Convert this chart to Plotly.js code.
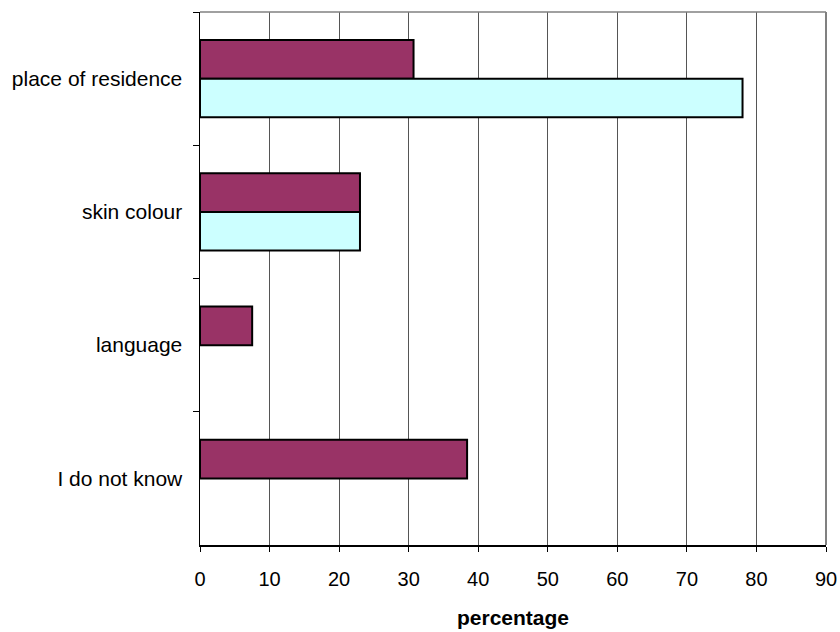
<!DOCTYPE html>
<html>
<head>
<meta charset="utf-8">
<script src="https://cdn.plot.ly/plotly-3.0.1.min.js"></script>
<style>html,body{margin:0;padding:0;background:#fff;}#chart{width:840px;height:632px;}</style>
</head>
<body>
<div id="chart"></div>
<script>
const categories = ["place of residence", "skin colour", "language", "I do not know"];
const seriesA = [30.7, 23.0, 7.5, 38.4];
const seriesB = [78.0, 23.0, null, null];
const xTicks = [0, 10, 20, 30, 40, 50, 60, 70, 80, 90];

const traces = [
  {type: "bar", orientation: "h", y: categories, x: seriesA, name: "A",
   marker: {color: "#993366", line: {color: "#000000", width: 2}}},
  {type: "bar", orientation: "h", y: categories, x: seriesB, name: "B",
   marker: {color: "#CCFFFF", line: {color: "#000000", width: 2}}}
];

const layout = {
  width: 840, height: 632,
  margin: {l: 200, r: 14, t: 12, b: 87},
  paper_bgcolor: "#ffffff", plot_bgcolor: "#ffffff",
  font: {family: "Liberation Sans, Arial, sans-serif", size: 20, color: "#000"},
  showlegend: false,
  barmode: "group",
  bargap: 0.42,
  bargroupgap: 0,
  xaxis: {
    range: [0, 90], tickvals: xTicks, ticktext: xTicks.map(String),
    showgrid: true, gridcolor: "#555555", gridwidth: 1,
    showline: true, linecolor: "#000", linewidth: 1.5,
    ticks: "outside", ticklen: 5, tickcolor: "#000",
    zeroline: false, mirror: false,
    tickfont: {size: 20}, ticklabelstandoff: 10,
    title: {text: "<b>percentage</b>", font: {size: 21}, standoff: 22}
  },
  yaxis: {
    type: "category", autorange: "reversed",
    showline: true, linecolor: "#000", linewidth: 1.5,
    ticks: "outside", ticklen: 6, tickcolor: "#000",
    tickson: "boundaries", showgrid: false,
    tickfont: {size: 21}, ticklabelstandoff: 12
  },
  shapes: [
    {type: "line", xref: "paper", yref: "paper", x0: 0, x1: 1, y0: 1, y1: 1, line: {color: "#808080", width: 1.5}},
    {type: "line", xref: "paper", yref: "paper", x0: 1, x1: 1, y0: 0, y1: 1, line: {color: "#808080", width: 2}}
  ]
};

Plotly.newPlot("chart", traces, layout, {displayModeBar: false, staticPlot: true});
</script>
</body>
</html>
